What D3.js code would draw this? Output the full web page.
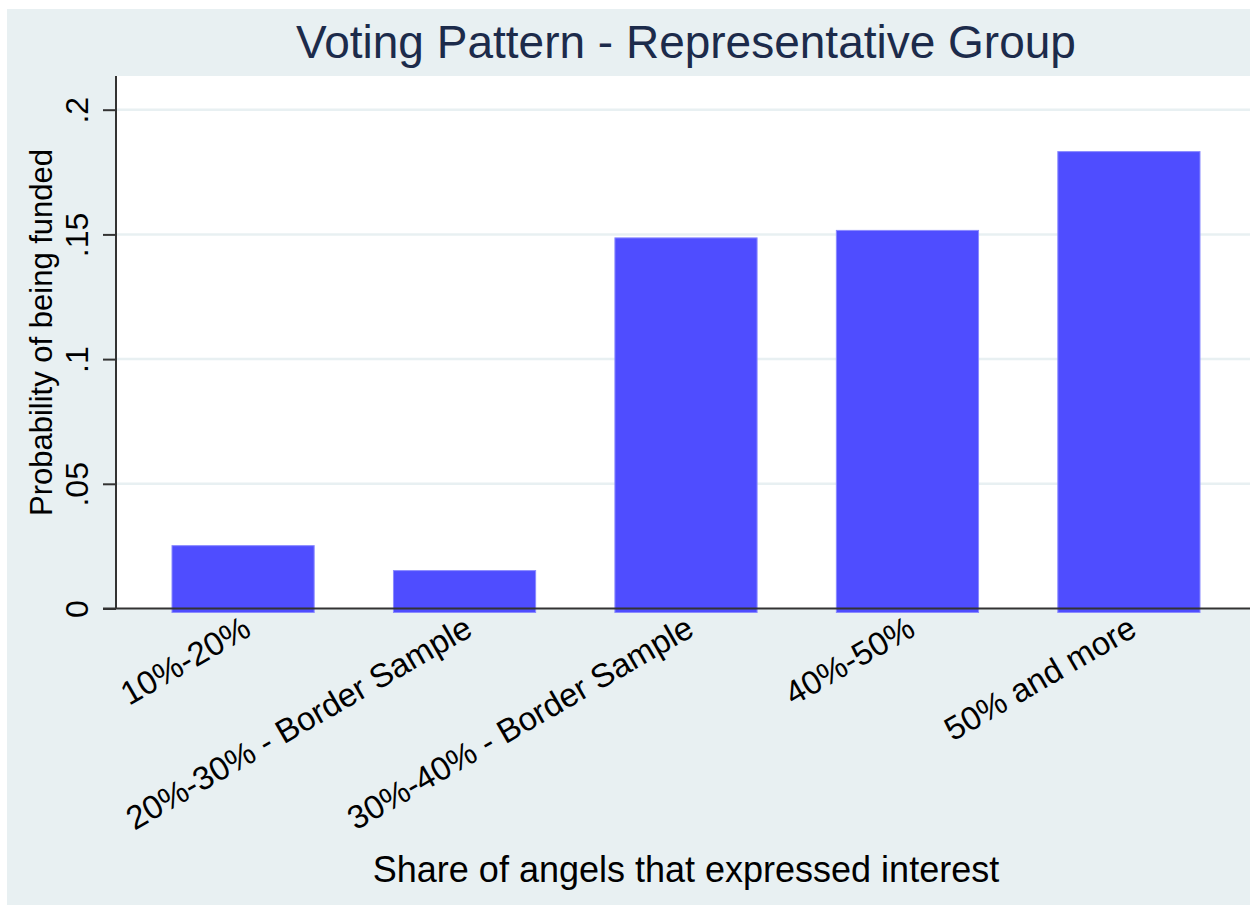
<!DOCTYPE html>
<html>
<head>
<meta charset="utf-8">
<script src="https://cdn.jsdelivr.net/npm/d3@7"></script>
<style>
  body { margin: 0; background: #fff; }
  svg text { font-family: "Liberation Sans", Arial, sans-serif; }
</style>
</head>
<body>
<div id="chart"></div>
<script>
// values
const categories = [
  "10%-20%",
  "20%-30% - Border Sample",
  "30%-40% - Border Sample",
  "40%-50%",
  "50% and more",
];
const probFunded = [0.0252, 0.0152, 0.1486, 0.1516, 0.1832];
const yTicks = [0, 0.05, 0.1, 0.15, 0.2];
const yTickLabels = ["0", ".05", ".1", ".15", ".2"];

const width = 1250;
const height = 905;
const bg = "#e8f0f2";

const svg = d3
  .select("#chart")
  .append("svg")
  .attr("width", width)
  .attr("height", height);

// graph region (outer light blue-grey)
svg
  .append("rect")
  .attr("x", 7)
  .attr("y", 9)
  .attr("width", width - 7)
  .attr("height", height - 9)
  .attr("fill", bg);

// plot region
const plotLeft = 116;
const plotTop = 76;
const plotBottom = 608.5;

svg
  .append("rect")
  .attr("x", plotLeft)
  .attr("y", plotTop)
  .attr("width", width - plotLeft)
  .attr("height", plotBottom - plotTop)
  .attr("fill", "#fff");

const x = d3
  .scaleBand()
  .domain(categories)
  .range([172, 1200])
  .paddingInner(0.358)
  .paddingOuter(0);

const y = d3.scaleLinear().domain([0, 0.2]).range([plotBottom, 109.7]);

// gridlines
svg
  .append("g")
  .selectAll("line")
  .data(yTicks.filter((d) => d > 0))
  .join("line")
  .attr("x1", plotLeft)
  .attr("x2", width)
  .attr("y1", (d) => y(d))
  .attr("y2", (d) => y(d))
  .attr("stroke", bg)
  .attr("stroke-width", 2.5);

// bars (they poke a little below the axis, like Stata draws them)
svg
  .append("g")
  .selectAll("rect")
  .data(categories)
  .join("rect")
  .attr("x", (d) => x(d))
  .attr("width", x.bandwidth())
  .attr("y", (d, i) => y(probFunded[i]))
  .attr("height", (d, i) => y(0) - y(probFunded[i]) + 4)
  .attr("fill", "#4f4dff")
  .attr("stroke", "#8a8aff")
  .attr("stroke-width", 1);

// y axis
const yAxis = d3
  .axisLeft(y)
  .tickValues(yTicks)
  .tickSize(13)
  .tickPadding(0)
  .tickFormat((d, i) => yTickLabels[i]);

const yAxisG = svg
  .append("g")
  .attr("transform", `translate(${plotLeft},0)`)
  .call(yAxis);

yAxisG.select(".domain").attr("stroke", "#333").attr("stroke-width", 2).attr("d", `M0,${plotTop}V${plotBottom}`);
yAxisG.selectAll(".tick line").attr("stroke", "#333").attr("stroke-width", 2);
yAxisG
  .selectAll(".tick text")
  .attr("x", null)
  .attr("dy", null)
  .attr("text-anchor", "middle")
  .attr("transform", "translate(-28,0) rotate(-90)")
  .attr("font-size", 32)
  .attr("fill", "#000");

// x axis
const xAxis = d3.axisBottom(x).tickSize(0).tickPadding(0);
const xAxisG = svg
  .append("g")
  .attr("transform", `translate(0,${plotBottom})`)
  .call(xAxis);

xAxisG.select(".domain").attr("stroke", "#333").attr("stroke-width", 2).attr("d", `M${plotLeft - 13},0H${width}`);
xAxisG
  .selectAll(".tick text")
  .attr("y", null)
  .attr("dy", "0.35em")
  .attr("text-anchor", "end")
  .attr("transform", "translate(4,16) rotate(-30)")
  .attr("font-size", 33)
  .attr("fill", "#000");

// titles
svg
  .append("text")
  .attr("x", 686)
  .attr("y", 58)
  .attr("text-anchor", "middle")
  .attr("font-size", 46)
  .attr("fill", "#1c2b4b")
  .text("Voting Pattern - Representative Group");

svg
  .append("text")
  .attr("x", 686)
  .attr("y", 882)
  .attr("text-anchor", "middle")
  .attr("font-size", 36)
  .attr("fill", "#000")
  .text("Share of angels that expressed interest");

svg
  .append("text")
  .attr("transform", `translate(52,${(150 + 515) / 2}) rotate(-90)`)
  .attr("text-anchor", "middle")
  .attr("font-size", 31)
  .attr("fill", "#000")
  .text("Probability of being funded");
</script>
</body>
</html>
